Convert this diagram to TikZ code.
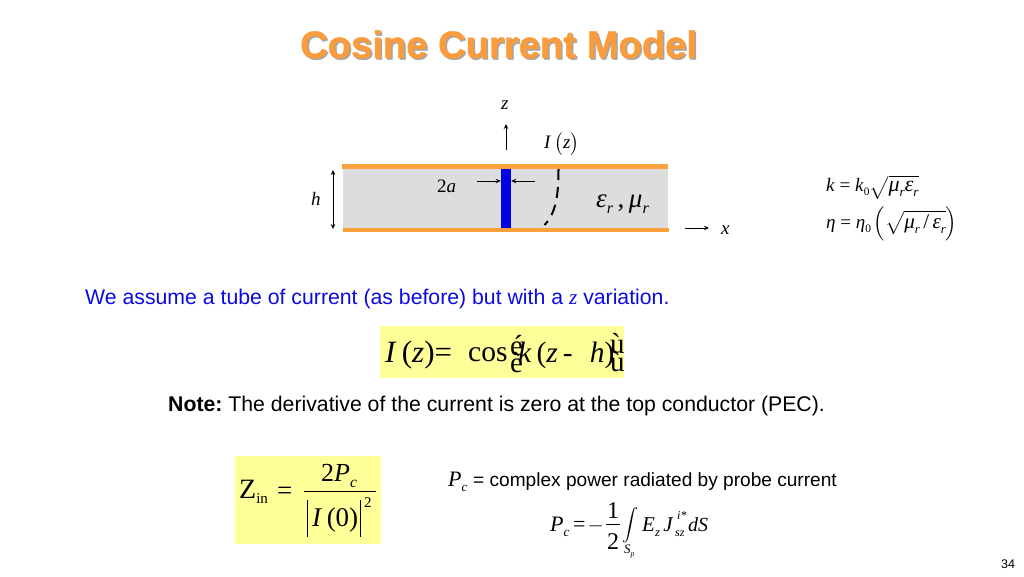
\documentclass[tikz,border=0pt]{standalone}
\usepackage{amsmath,amssymb}
\usepackage{fontspec}
\setmainfont{Liberation Serif}
\newfontfamily\sansfont{Liberation Sans}
\newfontfamily\titlefont[BoldFeatures={FakeBold=1.2}]{Liberation Sans}
\usetikzlibrary{arrows,arrows.meta}
\definecolor{titleorange}{RGB}{250,155,60}
\definecolor{plateorange}{RGB}{250,160,60}
\definecolor{subgray}{RGB}{221,221,221}
\definecolor{eqyellow}{RGB}{255,255,153}
\definecolor{noteblue}{RGB}{10,10,225}
\newcommand{\mv}[1]{\textit{#1}}
\newcommand{\sub}[1]{\raisebox{-0.25em}{\fontsize{0.6em}{0.6em}\selectfont #1}}
\newcommand{\inner}[2]{{\fontsize{#1pt}{#1pt}\selectfont #2}}
\tikzset{
	>={Stealth[length=5pt,width=4.5pt]},
	plate/.style={rectangle, fill=plateorange, inner sep=0pt, minimum width=326pt, minimum height=4.5pt},
	slab/.style={rectangle, fill=subgray, inner sep=0pt, minimum width=325pt, minimum height=59pt},
	probe/.style={rectangle, fill=blue!90!black, inner sep=0pt, minimum width=10pt, minimum height=59pt},
	eqbox/.style={rectangle, fill=eqyellow, inner sep=0pt},
	sans/.style={inner sep=0pt, anchor=base west, font={\sansfont\fontsize{#1pt}{#1pt}\selectfont\frenchspacing}},
	sym/.style={inner sep=0pt, anchor=base west, font={\fontsize{#1pt}{#1pt}\selectfont}},
	heading/.style={inner sep=0pt, anchor=base west, font={\titlefont\fontsize{38.2pt}{38.2pt}\selectfont\bfseries}},
	line/.style={draw, thick, ->, line width=0.9pt},
}
\begin{document}
\begin{tikzpicture}[x=1pt,y=-1pt]
	\useasboundingbox (0,0) rectangle (1024,576);
	% title with its shadow
	\node[heading, text=black!35] (shadow) at (301.5,59.5) {Cosine Current Model};
	\node[heading, text=titleorange] (title) at (300,58) {Cosine Current Model};
	% the slab
	\node[slab] (sub) at (505.5,198.5) {};
	\node[plate] (topplate) at (505,166.5) {};
	\node[plate] (botplate) at (506,230) {};
	\node[probe] (wire) at (506,198.5) {};
	\node[sym=19] (zlab) at (501,109) {\mv{z}};
	\node[sym=19] (ilab) at (544,148) {\mv{I}\,$\bigl($\mv{z}$\bigr)$};
	\node[sym=19] (two) at (437,192) {2\mv{a}};
	\node[sym=19] (hlab) at (311,205) {\mv{h}};
	\node[sym=27] (mat) at (596,207) {\mv{ε}\sub{\mv{r}}\,,\,\mv{μ}\sub{\mv{r}}};
	\node[sym=19] (xlab) at (721,234) {\mv{x}};
	\coordinate (ztail) at (506,150);
	\coordinate (zhead) at (506,124);
	\coordinate (aleft) at (477,181);
	\coordinate (aright) at (535,181);
	\coordinate (htop) at (333,170);
	\coordinate (hbot) at (333,229);
	\coordinate (xtail) at (685,228);
	\coordinate (xhead) at (709,228);
	\coordinate (cosa) at (558.5,169);
	\coordinate (cosb) at (544.5,225);
	\draw[line] (ztail) -- (zhead);
	\draw[line] (aleft) -- (wire.west |- aleft);
	\draw[line] (aright) -- (wire.east |- aright);
	\draw[line, <->] (htop) -- (hbot);
	\draw[line] (xtail) -- (xhead);
	\draw[line width=2pt, dash pattern=on 11pt off 7pt] (cosa) .. controls (558.5,195) and (556,213) .. (cosb);
	% constants on the right
	\node[sym=19] (kline) at (826,191) {\mv{k} = \mv{k}\sub{0}$\sqrt{\text{\inner{22}{\mv{μ}\sub{\mv{r}}\mv{ε}\sub{\mv{r}}}}}$};
	\node[sym=19] (etaline) at (826,228) {\mv{η} = \mv{η}\sub{0}\hspace{3pt}$\Bigl(\sqrt{\text{\inner{21}{\mv{μ}\sub{\mv{r}}\,/\,\mv{ε}\sub{\mv{r}}}}}\Bigr)$};
	% middle lines
	\node[sans=21.25, text=noteblue] (assume) at (85,304) {We assume a tube of current (as before) but with a {\rmfamily\itshape z} variation.};
	\node[eqbox, minimum width=244pt, minimum height=52pt] (eqone) at (502,352) {};
	\node[sym=31] (cur) at (385,362) {\mv{I}\,(\mv{z})=};
	\node[sym=29.5] (cosw) at (468,361) {cos};
	\node[sym=29.5] (kz) at (518,362) {\mv{k}\,(\mv{z}\,- \,\,\mv{h})};
	\node[sym=29] (brtl) at (510,355) {é};
	\node[sym=29] (brbl) at (510,372) {è};
	\node[sym=29] (brtr) at (610,353) {ù};
	\node[sym=29] (brbr) at (610,371) {ù};
	\node[sans=21.25] (note) at (168,411) {\textbf{Note:} The derivative of the current is zero at the top conductor (PEC).};
	% input impedance
	\node[eqbox, minimum width=146pt, minimum height=88pt] (eqtwo) at (308,499.5) {};
	\node[sym=28] (zin) at (239,498) {Z\raisebox{-5pt}{\inner{15}{in}}};
	\node[sym=27] (eqs) at (277,499) {=};
	\node[sym=26] (numer) at (321,481) {2\mv{P}\sub{\mv{c}}};
	\coordinate (fracl) at (304,491.5);
	\coordinate (fracr) at (376,491.5);
	\draw[line width=0.8pt] (fracl) -- (fracr);
	\node[sym=27] (denom) at (312,526) {\mv{I}\,(0)};
	\coordinate (absla) at (307,500);
	\coordinate (abslb) at (307,537);
	\coordinate (absra) at (360,500);
	\coordinate (absrb) at (360,537);
	\draw[line width=0.8pt] (absla) -- (abslb);
	\draw[line width=0.8pt] (absra) -- (absrb);
	\node[sym=15] (sq) at (364,507) {2};
	% complex power
	\node[sym=22] (pc) at (448,486) {\mv{P}\sub{\mv{c}}};
	\node[sans=19.1] (pctext) at (473,486) {= complex power radiated by probe current};
	\node[sym=22] (pctwo) at (550,531) {\mv{P}\sub{\mv{c}}};
	\node[sym=22] (eqm) at (573,531) {=\hspace{2pt}$-$};
	\node[sym=24] (one) at (607,518) {1};
	\coordinate (pfracl) at (606,524);
	\coordinate (pfracr) at (620,524);
	\draw[line width=0.8pt] (pfracl) -- (pfracr);
	\node[sym=24] (twob) at (607,549) {2};
	\node[sym=16, anchor=center] (intg) at (630,525) {$\displaystyle\int$};
	\node[sym=13] (sp) at (624,553) {\mv{S}\sub{\mv{p}}};
	\node[sym=21] (ez) at (642,531) {\mv{E}\sub{\mv{z}}\,\mv{J}};
	\node[sym=12] (ista) at (677,519) {\mv{i*}};
	\node[sym=12] (ssz) at (675,536) {\mv{sz}};
	\node[sym=20] (ds) at (688,531) {\mv{dS}};
	\node[sans=12.5] (page) at (1001,568) {34};
\end{tikzpicture}
\end{document}
